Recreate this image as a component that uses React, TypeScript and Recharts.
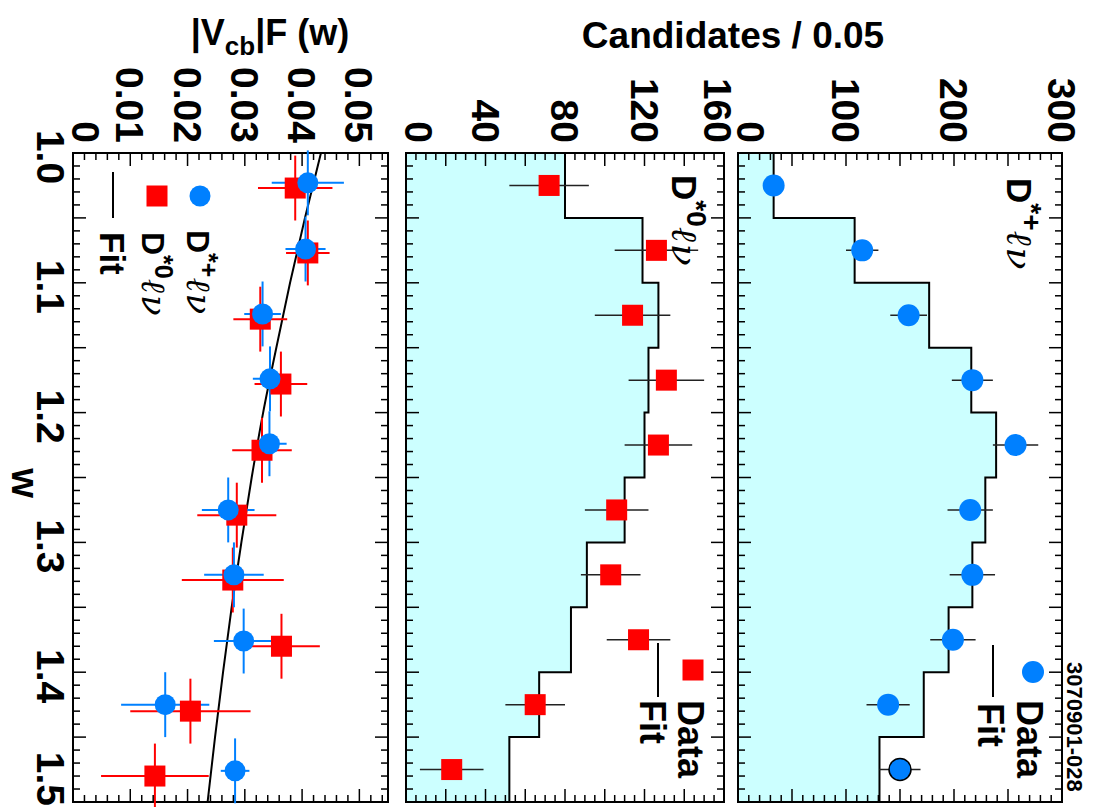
import React from 'react';
import { ComposedChart, Area, Scatter, Line, XAxis, YAxis, ErrorBar, ReferenceArea } from 'recharts';

// lower edges of the w bins and the bin centres
const binLow = [1.0, 1.05, 1.1, 1.15, 1.2, 1.25, 1.3, 1.35, 1.4, 1.45];
const binMid = [1.025, 1.075, 1.125, 1.175, 1.225, 1.275, 1.325, 1.375, 1.425, 1.475];

// D*+ l nu candidates
const dPlusCounts = [33, 115, 158, 217, 257, 215, 217, 199, 139, 150];
const dPlusErr = [6, 15, 17, 19, 21, 21, 21, 21, 20, 19];
const dPlusFit = [33, 108, 177, 216, 239, 229, 217, 195, 172, 131];

// D*0 l nu candidates
const dZeroCounts = [72, 126, 114, 131, 127, 106, 103, 117, 65, 23];
const dZeroErr = [20, 21, 19, 19, 17, 16, 15, 16, 15, 16];
const dZeroFit = [80, 119, 127, 122, 120, 110, 91, 83, 67, 52];

// |Vcb| F(w) per bin
const vPlusW = [1.023, 1.074, 1.124, 1.174, 1.224, 1.275, 1.325, 1.376, 1.425, 1.476];
const vPlus = [0.041, 0.0406, 0.0331, 0.0344, 0.0343, 0.0271, 0.0281, 0.0298, 0.0161, 0.0283];
const vPlusErr = [0.0063, 0.0035, 0.0032, 0.003, 0.003, 0.0046, 0.0052, 0.0052, 0.0077, 0.0025];
const vZeroW = [1.027, 1.077, 1.128, 1.178, 1.229, 1.279, 1.329, 1.38, 1.43, 1.48];
const vZero = [0.0388, 0.041, 0.0327, 0.0363, 0.033, 0.0286, 0.0279, 0.0364, 0.0205, 0.0143];
const vZeroErr = [0.0065, 0.0038, 0.0047, 0.0046, 0.0052, 0.0069, 0.0089, 0.0067, 0.0105, 0.0094];
const wHalfBin = 0.025;

// fitted |Vcb| F(w) curve
const fitW = [1.0, 1.05, 1.1, 1.15, 1.2, 1.25, 1.3, 1.35, 1.4, 1.45, 1.5];
const fitV = [0.0433, 0.0405, 0.0379, 0.0355, 0.0332, 0.0312, 0.0294, 0.0277, 0.0262, 0.0248, 0.0235];

// axis labels
const wLabels = [1.0, 1.1, 1.2, 1.3, 1.4, 1.5];
const dPlusLabels = [0, 100, 200, 300];
const dZeroLabels = [0, 40, 80, 120, 160];
const vLabels = [0, 0.01, 0.02, 0.03, 0.04, 0.05];

const W = 807;
const H = 1094;
const PLOT_L = 153;
const PLOT_R = 802;
const FONT = '"Liberation Sans", Arial, Helvetica, sans-serif';
const SCRIPT = '"DejaVu Serif", "Liberation Serif", serif';
const BLUE = '#0080ff';
const RED = '#ff0000';
const FILL = '#ccffff';

const range = (n: number, step: number, start = 0) =>
  Array.from({ length: n + 1 }, (_, i) => +(start + i * step).toFixed(4));

const dPlusTicks = range(30, 10);
const dZeroTicks = range(32, 5);
const vTicks = range(27, 0.002);
const wTicks = range(50, 0.01, 1);

const stepData = (fit: number[]) =>
  binLow.map((w, i) => ({ w, fit: fit[i] })).concat({ w: 1.5, fit: fit[fit.length - 1] });

const pointData = (ws: number[], v: number[], e: number[]) =>
  ws.map((w, i) => ({ w, v: v[i], e: e[i], we: wHalfBin }));

const dPlusSteps = stepData(dPlusFit);
const dZeroSteps = stepData(dZeroFit);
const dPlusPoints = pointData(binMid, dPlusCounts, dPlusErr);
const dZeroPoints = pointData(binMid, dZeroCounts, dZeroErr);
const vPlusPoints = pointData(vPlusW, vPlus, vPlusErr);
const vZeroPoints = pointData(vZeroW, vZero, vZeroErr);
const fitData = fitW.map((w, i) => ({ w, v: fitV[i] }));

const near = (a: number, b: number) => Math.abs(a - b) < 1e-9;

// value-axis ticks on both sides of a pad, with labels to the left
const valueTick = (minor: number, perMajor: number, labels: number[], fmt: (v: number) => string, topShift = 0) =>
  (props: any) => {
    const { y, payload } = props;
    const v = payload.value;
    const len = Math.round(v / minor) % perMajor === 0 ? 13 : 7;
    const isLabel = labels.some((l) => near(l, v));
    let shift = 0;
    if (v === 0) shift = -13;
    else if (near(v, labels[labels.length - 1])) shift = topShift;
    return (
      <g>
        <line x1={PLOT_L} x2={PLOT_L + len} y1={y} y2={y} stroke="#000" strokeWidth={1.5} />
        <line x1={PLOT_R - len} x2={PLOT_R} y1={y} y2={y} stroke="#000" strokeWidth={1.5} />
        {isLabel && (
          <text x={143} y={y + 14 + shift} textAnchor="end" fontFamily={FONT} fontWeight="bold" fontSize={39} fill="#000">
            {fmt(v)}
          </text>
        )}
      </g>
    );
  };

// w-axis ticks along top and bottom of a pad; the last label is pulled inside the page
const wTick = (top: number, bottom: number, withLabels: boolean) => (props: any) => {
  const { x, payload } = props;
  const v = payload.value;
  const len = Math.round((v - 1) * 100) % 5 === 0 ? 13 : 7;
  const isLabel = withLabels && wLabels.some((l) => near(l, v));
  const last = near(v, wLabels[wLabels.length - 1]);
  return (
    <g>
      <line x1={x} x2={x} y1={top} y2={top + len} stroke="#000" strokeWidth={1.5} />
      <line x1={x} x2={x} y1={bottom - len} y2={bottom} stroke="#000" strokeWidth={1.5} />
      {isLabel && (
        <text x={last ? W - 1 : x + 4} y={1057} textAnchor={last ? 'end' : 'middle'} fontFamily={FONT} fontWeight="bold" fontSize={39} fill="#000">
          {v.toFixed(1)}
        </text>
      )}
    </g>
  );
};

const circleShape = (props: any) => {
  const last = near(props.payload.w, binMid[binMid.length - 1]);
  return <circle cx={props.cx} cy={props.cy} r={11} fill={BLUE} stroke={last ? '#000' : 'none'} strokeWidth={1.5} />;
};
const smallCircle = (props: any) => <circle cx={props.cx} cy={props.cy} r={10.5} fill={BLUE} />;
const squareShape = (props: any) => (
  <rect x={props.cx - 10.5} y={props.cy - 10.5} width={21} height={21} fill={RED} />
);

// axes take 1px each, so the plot box lands on PLOT_L..PLOT_R and top..bottom
const margin = (top: number, bottom: number) => ({ top, right: W - PLOT_R, bottom: H - bottom - 1, left: PLOT_L - 1 });
const layer: React.CSSProperties = { position: 'absolute', left: 0, top: 0 };

const ScriptLepton = ({ size, dy }: { size: number; dy: number }) => (
  <tspan dy={dy} fontFamily={SCRIPT} fontStyle="italic" fontWeight="normal" fontSize={size} letterSpacing={2}>ℓν</tspan>
);

export default function App() {
  return (
    <div style={{ position: 'fixed', left: 0, top: 0, width: 1094, height: 807, overflow: 'hidden', background: '#fff' }}>
      <div style={{ position: 'absolute', left: 0, top: 0, width: W, height: H, transform: 'translate(1094px, 0px) rotate(90deg)', transformOrigin: '0 0' }}>
        {/* D*+ l nu yields */}
        <div style={layer}>
          <ComposedChart width={W} height={H} data={dPlusSteps} margin={margin(32, 356)}>
            <XAxis type="number" dataKey="w" domain={[1, 1.5]} allowDataOverflow ticks={wTicks} interval={0} height={1}
              axisLine={false} tickLine={false} tick={wTick(32, 356, false)} />
            <YAxis type="number" domain={[0, 300]} allowDataOverflow ticks={dPlusTicks} interval={0} width={1}
              axisLine={false} tickLine={false} tick={valueTick(10, 5, dPlusLabels, (v) => String(v))} />
            <Area type="stepAfter" dataKey="fit" fill={FILL} fillOpacity={1} stroke="#000" strokeWidth={2} isAnimationActive={false} />
            <ReferenceArea x1={1} x2={1.5} y1={0} y2={300} fill="none" stroke="#000" strokeWidth={2} />
            <Scatter data={dPlusPoints} dataKey="v" shape={circleShape} isAnimationActive={false}>
              <ErrorBar dataKey="e" direction="y" width={0} stroke="#222" strokeWidth={1.5} />
            </Scatter>
          </ComposedChart>
        </div>

        {/* D*0 l nu yields */}
        <div style={layer}>
          <ComposedChart width={W} height={H} data={dZeroSteps} margin={margin(370, 688)}>
            <XAxis type="number" dataKey="w" domain={[1, 1.5]} allowDataOverflow ticks={wTicks} interval={0} height={1}
              axisLine={false} tickLine={false} tick={wTick(370, 688, false)} />
            <YAxis type="number" domain={[0, 160]} allowDataOverflow ticks={dZeroTicks} interval={0} width={1}
              axisLine={false} tickLine={false} tick={valueTick(5, 4, dZeroLabels, (v) => String(v), 6)} />
            <Area type="stepAfter" dataKey="fit" fill={FILL} fillOpacity={1} stroke="#000" strokeWidth={2} isAnimationActive={false} />
            <ReferenceArea x1={1} x2={1.5} y1={0} y2={160} fill="none" stroke="#000" strokeWidth={2} />
            <Scatter data={dZeroPoints} dataKey="v" shape={squareShape} isAnimationActive={false}>
              <ErrorBar dataKey="e" direction="y" width={0} stroke="#222" strokeWidth={1.5} />
            </Scatter>
          </ComposedChart>
        </div>

        {/* |Vcb| F(w) with fit */}
        <div style={layer}>
          <ComposedChart width={W} height={H} margin={margin(706, 1021)}>
            <XAxis type="number" dataKey="w" domain={[1, 1.5]} allowDataOverflow ticks={wTicks} interval={0} height={1}
              axisLine={false} tickLine={false} tick={wTick(706, 1021, true)} />
            <YAxis type="number" domain={[0, 0.055]} allowDataOverflow ticks={vTicks} interval={0} width={1}
              axisLine={false} tickLine={false} tick={valueTick(0.002, 5, vLabels, (v) => (v === 0 ? '0' : v.toFixed(2)))} />
            <ReferenceArea x1={1} x2={1.5} y1={0} y2={0.055} fill="none" stroke="#000" strokeWidth={2} />
            <Line data={fitData} dataKey="v" type="monotone" dot={false} stroke="#000" strokeWidth={2} isAnimationActive={false} />
            <Scatter data={vZeroPoints} dataKey="v" shape={squareShape} isAnimationActive={false}>
              <ErrorBar dataKey="e" direction="y" width={0} stroke={RED} strokeWidth={2} />
              <ErrorBar dataKey="we" direction="x" width={0} stroke={RED} strokeWidth={2} />
            </Scatter>
            <Scatter data={vPlusPoints} dataKey="v" shape={smallCircle} isAnimationActive={false}>
              <ErrorBar dataKey="e" direction="y" width={0} stroke={BLUE} strokeWidth={2} />
              <ErrorBar dataKey="we" direction="x" width={0} stroke={BLUE} strokeWidth={2} />
            </Scatter>
          </ComposedChart>
        </div>

        {/* titles, pad labels and legends */}
        <svg width={W} height={H} style={{ ...layer, pointerEvents: 'none' }}>
          <g fontFamily={FONT} fontWeight="bold" fill="#000">
            <text transform="translate(48,361) rotate(-90)" textAnchor="middle" fontSize={37}>Candidates / 0.05</text>
            <text transform="translate(45,824) rotate(-90)" textAnchor="middle" fontSize={36}>
              |V<tspan fontSize={26} dy={10}>cb</tspan><tspan dy={-10}>|F (w)</tspan>
            </text>
            <text x={483} y={1082} textAnchor="middle" fontSize={38}>w</text>
            <text x={662} y={27} fontSize={22}>3070901-028</text>

            <text x={178} y={87} fontSize={35}>
              D<tspan dy={-15} fontSize={28}>*+</tspan><ScriptLepton size={36} dy={15} />
            </text>
            <text x={175} y={422} fontSize={35}>
              D<tspan dy={-15} fontSize={28}>*0</tspan><ScriptLepton size={36} dy={15} />
            </text>

            <circle cx={672} cy={61} r={11} fill={BLUE} />
            <text x={700} y={77} fontSize={36}>Data</text>
            <line x1={645} x2={697} y1={101} y2={101} stroke="#000" strokeWidth={2} />
            <text x={703} y={116} fontSize={36}>Fit</text>

            <rect x={659.5} y={390.5} width={21} height={21} fill={RED} />
            <text x={700} y={416} fontSize={36}>Data</text>
            <line x1={643} x2={697} y1={436} y2={436} stroke="#000" strokeWidth={2} />
            <text x={700} y={454} fontSize={36}>Fit</text>

            <circle cx={196} cy={894} r={10.5} fill={BLUE} />
            <text x={230} y={907} fontSize={32}>
              D<tspan dy={-13} fontSize={25}>*+</tspan><ScriptLepton size={34} dy={13} />
            </text>
            <rect x={185.5} y={926.5} width={21} height={21} fill={RED} />
            <text x={232} y={952} fontSize={32}>
              D<tspan dy={-13} fontSize={25}>*0</tspan><ScriptLepton size={34} dy={13} />
            </text>
            <line x1={172} x2={218} y1={981} y2={981} stroke="#000" strokeWidth={2} />
            <text x={232} y={994} fontSize={35}>Fit</text>
          </g>
        </svg>
      </div>
    </div>
  );
}
